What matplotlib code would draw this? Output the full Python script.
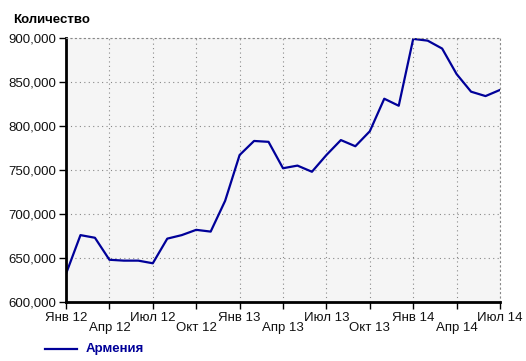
import matplotlib
matplotlib.use("Agg")
import matplotlib.pyplot as plt

plt.rcParams['font.family'] = ['Liberation Sans', 'DejaVu Sans']

# monthly values, Jan 2012 .. Jul 2014
months = list(range(31))
armenia = [632, 676, 673, 648, 647, 647, 644, 672, 676, 682, 680, 715,
           767, 783, 782, 752, 755, 748, 767, 784, 777, 794, 831, 823,
           899, 897, 888, 859, 839, 834, 841]
armenia = [v * 1000 for v in armenia]

tick_pos = list(range(0, 31, 3))
tick_labels = ["Янв 12", "Апр 12", "Июл 12", "Окт 12", "Янв 13", "Апр 13",
               "Июл 13", "Окт 13", "Янв 14", "Апр 14", "Июл 14"]
y_ticks = [600000, 650000, 700000, 750000, 800000, 850000, 900000]

W, H = 526, 361
fig = plt.figure(figsize=(W / 100, H / 100), dpi=100)
ax = fig.add_axes([66 / W, 1 - 302 / H, (500 - 66) / W, (302 - 38) / H])
ax.set_facecolor("#f5f5f5")

line, = ax.plot(months, armenia, color="#000099", lw=1.6)

ax.set_xlim(0, 30)
ax.set_ylim(600000, 900000)
ax.set_yticks(y_ticks)
ax.set_yticklabels([f"{v:,}" for v in y_ticks])
ax.set_xticks(tick_pos)
ax.set_xticklabels([])
for i, (p, lab) in enumerate(zip(tick_pos, tick_labels)):
    ax.text(p, -0.06 if i % 2 == 0 else -0.10, lab,
            transform=ax.get_xaxis_transform(), ha="center", va="center",
            fontsize=9.5, color="#111111")

ax.grid(True, color="#888888", linestyle=(0, (1, 3)), lw=0.8)
for s in ["top", "right"]:
    ax.spines[s].set_visible(True)
    ax.spines[s].set_color("#888888")
    ax.spines[s].set_linestyle((0, (1, 3)))
    ax.spines[s].set_linewidth(0.8)
for s in ["left", "bottom"]:
    ax.spines[s].set_linewidth(2)
    ax.spines[s].set_color("black")
ax.tick_params(axis="both", direction="out", length=5, width=1, labelsize=9.5,
               colors="black", labelcolor="#111111")
ax.tick_params(axis="y", pad=2)

fig.text(13 / W, 1 - 20 / H, "Количество", fontsize=9.5, fontweight="bold",
         ha="left", va="center")

# legend
fig.lines.append(plt.Line2D([45 / W, 77 / W], [1 - 349 / H, 1 - 349 / H],
                            transform=fig.transFigure, color="#000099", lw=1.6))
fig.text(86 / W, 1 - 349 / H, "Армения", fontsize=9.5, fontweight="bold",
         color="#000099", ha="left", va="center")

fig.savefig("out.png", dpi=100)
